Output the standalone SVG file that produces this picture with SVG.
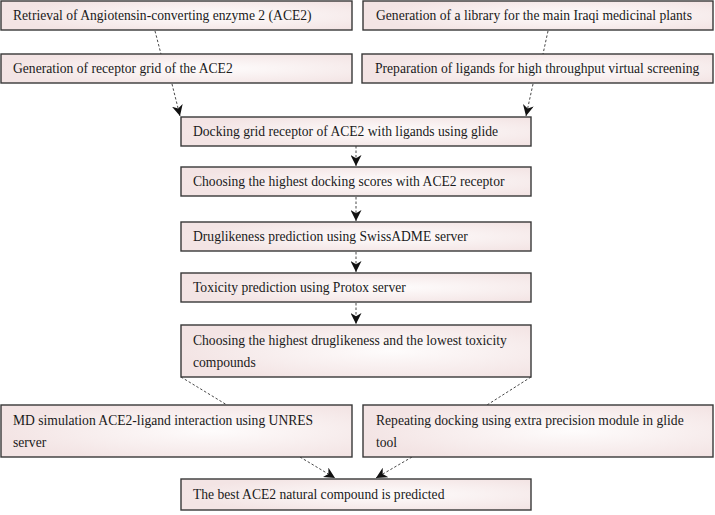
<svg xmlns="http://www.w3.org/2000/svg" width="715" height="515" viewBox="0 0 715 515">
<style>
.box{fill:url(#g);stroke:#383838;stroke-width:1.4}
.t{font-family:"Liberation Serif","Times New Roman",serif;font-size:13.6px;fill:#1a1a1a}
.c{fill:none;stroke:#333;stroke-width:0.9;stroke-dasharray:2.5 2}
</style>
<defs>
<radialGradient id="g" cx="0.6" cy="0.5" r="0.6">
<stop offset="0" stop-color="#fefcfc"/>
<stop offset="1" stop-color="#f3e4e4"/>
</radialGradient>
<marker id="a" viewBox="0 0 10 10" refX="10" refY="5" markerWidth="11" markerHeight="11" markerUnits="userSpaceOnUse" orient="auto">
<path d="M0,0 L10,5 L0,10 L3,5 z" fill="#111"/>
</marker>
</defs>
<g id="connectors">
<path class="c" d="M155,31 L161,54"/>
<path class="c" d="M172,84 L180,116" marker-end="url(#a)"/>
<path class="c" d="M548,31 L543,54"/>
<path class="c" d="M533,84 L526,116" marker-end="url(#a)"/>
<path class="c" d="M356,146 L356,166" marker-end="url(#a)"/>
<path class="c" d="M356,197 L356,221" marker-end="url(#a)"/>
<path class="c" d="M356,252 L356,272" marker-end="url(#a)"/>
<path class="c" d="M356,303 L356,324" marker-end="url(#a)"/>
<path class="c" d="M181,377 L227,405"/>
<path class="c" d="M531,377 L487,405"/>
<path class="c" d="M300,457 L335,478" marker-end="url(#a)"/>
<path class="c" d="M412,457 L376,478" marker-end="url(#a)"/>
</g>
<g id="n1"><rect class="box" x="1" y="1" width="351" height="29"/><text class="t" x="13" y="20">Retrieval of Angiotensin-converting enzyme 2 (ACE2)</text></g>
<g id="n2"><rect class="box" x="363" y="1" width="350" height="29"/><text class="t" x="376" y="20">Generation of a library for the main Iraqi medicinal plants</text></g>
<g id="n3"><rect class="box" x="1" y="54" width="351" height="29"/><text class="t" x="13" y="73">Generation of receptor grid of the ACE2</text></g>
<g id="n4"><rect class="box" x="362" y="54" width="351" height="29"/><text class="t" x="375" y="73">Preparation of ligands for high throughput virtual screening</text></g>
<g id="n5"><rect class="box" x="181" y="117" width="350" height="29"/><text class="t" x="193" y="136">Docking grid receptor of ACE2 with ligands using glide</text></g>
<g id="n6"><rect class="box" x="181" y="167" width="350" height="29"/><text class="t" x="193" y="186">Choosing the highest docking scores with ACE2 receptor</text></g>
<g id="n7"><rect class="box" x="181" y="222" width="350" height="29"/><text class="t" x="193" y="241">Druglikeness prediction using SwissADME server</text></g>
<g id="n8"><rect class="box" x="181" y="273" width="350" height="29"/><text class="t" x="193" y="292">Toxicity prediction using Protox server</text></g>
<g id="n9"><rect class="box" x="181" y="325" width="350" height="52"/><text class="t" x="193" y="345">Choosing the highest druglikeness and the lowest toxicity</text><text class="t" x="193" y="367">compounds</text></g>
<g id="n10"><rect class="box" x="1" y="405" width="351" height="52"/><text class="t" x="13" y="425">MD simulation ACE2-ligand interaction using UNRES</text><text class="t" x="13" y="447">server</text></g>
<g id="n11"><rect class="box" x="363" y="405" width="350" height="52"/><text class="t" x="376" y="425">Repeating docking using extra precision module in glide</text><text class="t" x="376" y="447">tool</text></g>
<g id="n12"><rect class="box" x="181" y="479" width="350" height="31"/><text class="t" x="193" y="499">The best ACE2 natural compound is predicted</text></g>
</svg>
